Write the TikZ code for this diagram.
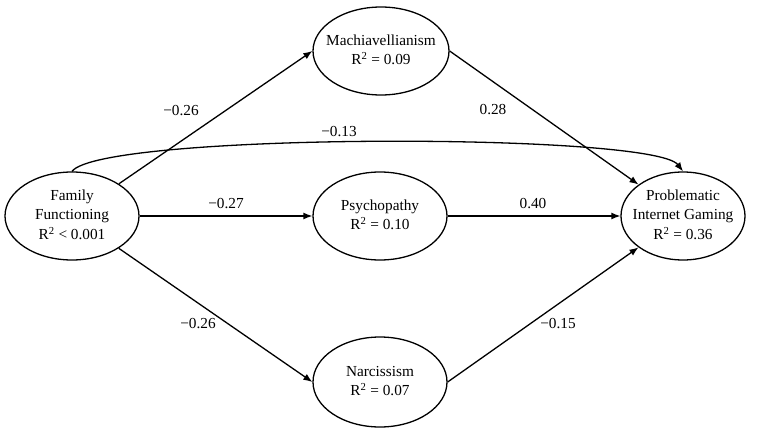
\documentclass[tikz,border=0pt]{standalone}
\usepackage{fontspec}
\setmainfont{Liberation Serif}
\usetikzlibrary{shapes.geometric,arrows.meta}
\newcommand\vlab[1]{\makebox[0pt]{\begin{tabular}{@{}c@{}}#1\end{tabular}}}
\begin{document}
\begin{tikzpicture}[x=1pt,y=-1pt,
  var/.style={draw,ellipse,line width=1.3pt,inner sep=0pt,
    font=\fontsize{15.3}{19.5}\selectfont},
  path/.style={line width=1.3pt,-{Latex[length=9pt,width=7pt]}},
  coef/.style={font=\fontsize{15.3}{18}\selectfont,inner sep=0pt}]
\useasboundingbox (0,0) rectangle (760,433);
\node[var,minimum width=134pt,minimum height=88pt] (ff) at (72,216) {\vlab{Family\\Functioning\\R\textsuperscript{2} < 0.001}};
\node[var,minimum width=136pt,minimum height=88pt] (mach) at (381,51) {\vlab{Machiavellianism\\R\textsuperscript{2} = 0.09}};
\node[var,minimum width=134pt,minimum height=88pt] (psy) at (380,216) {\vlab{Psychopathy\\R\textsuperscript{2} = 0.10}};
\node[var,minimum width=134pt,minimum height=90pt] (narc) at (380,382) {\vlab{Narcissism\\R\textsuperscript{2} = 0.07}};
\node[var,minimum width=124pt,minimum height=88pt] (pig) at (683,216) {\vlab{Problematic\\Internet Gaming\\R\textsuperscript{2} = 0.36}};
\draw[path] (ff) -- (mach.west);
\draw[path] (mach.east) -- (pig);
\draw[path] (ff) -- (psy);
\draw[path] (psy) -- (pig);
\draw[path] (ff) -- (narc.west);
\draw[path] (narc.east) -- (pig);
\draw[path] (ff.north) .. controls +(30,-39) and +(-30,-39) .. (pig.north);
\node[coef] (c1) at (181,111) {−0.26};
\node[coef] (c2) at (339,132) {−0.13};
\node[coef] (c3) at (493,110) {0.28};
\node[coef] (c4) at (226,204) {−0.27};
\node[coef] (c5) at (533,204) {0.40};
\node[coef] (c6) at (198,324) {−0.26};
\node[coef] (c7) at (558,324) {−0.15};
\end{tikzpicture}
\end{document}
